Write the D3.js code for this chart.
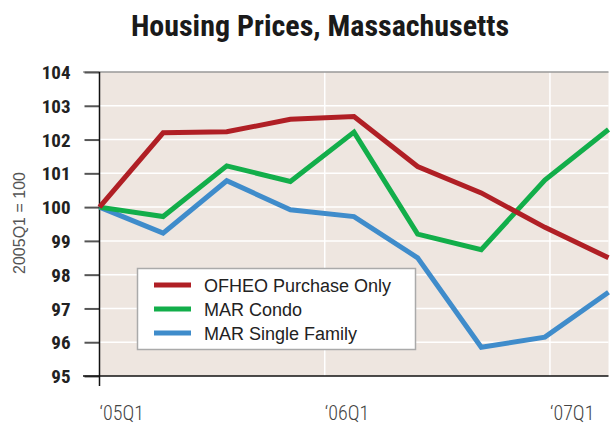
<!DOCTYPE html>
<html><head><meta charset="utf-8">
<script src="https://cdn.jsdelivr.net/npm/d3@7"></script>
<style>
body{margin:0;background:#fff;}
svg{display:block;}
</style></head>
<body>
<svg id="chart" width="616" height="427"></svg>
<script>
const categories = ["05Q1","05Q2","05Q3","05Q4","06Q1","06Q2","06Q3","06Q4","07Q1"];
const ofheo  = [100, 102.2, 102.23, 102.6, 102.68, 101.2, 100.42, 99.4, 98.5];
const condo  = [100, 99.72, 101.22, 100.76, 102.22, 99.2, 98.74, 100.8, 102.3];
const single = [100, 99.23, 100.78, 99.92, 99.72, 98.5, 95.85, 96.15, 97.48];
const seriesNames = ["OFHEO Purchase Only","MAR Condo","MAR Single Family"];
const seriesColors = ["#b01f25","#12ae4a","#3f8ccb"];
const yTicks = [95,96,97,98,99,100,101,102,103,104];
const xTickLabels = ["\u201805Q1","\u201806Q1","\u201807Q1"];
const xTickQuarters = [0,4,8];

const svg = d3.select("#chart");
const L = 99.5, R = 608.5, T = 72, B = 376;
const y = d3.scaleLinear().domain([95,104]).range([B,T]);
const xq = d3.scaleLinear().domain([0,9.04]).range([L,R]);
const xp = d3.scalePoint().domain(categories).range([L,R]);

const condensed = "'Liberation Sans Narrow','Arial Narrow','Roboto Condensed',sans-serif";

svg.append("text").attr("x",320).attr("y",36).attr("text-anchor","middle")
  .style("font-family",condensed).style("font-weight","bold").style("font-size","30px")
  .attr("fill","#1a1a1a").text("Housing Prices, Massachusetts");

svg.append("rect").attr("x",L).attr("y",T).attr("width",R-L).attr("height",B-T).attr("fill","#eee6e0");

// horizontal grid
svg.append("g").selectAll("line").data(yTicks.slice(1,-1)).join("line")
  .attr("x1",L).attr("x2",R).attr("y1",d=>y(d)).attr("y2",d=>y(d))
  .attr("stroke","#fff").attr("stroke-width",1.5);
// vertical grid
svg.append("g").selectAll("line").data(xTickQuarters.slice(1)).join("line")
  .attr("x1",d=>xq(d)).attr("x2",d=>xq(d)).attr("y1",T).attr("y2",B)
  .attr("stroke","#fff").attr("stroke-width",1.5);

// top border
svg.append("line").attr("x1",83).attr("x2",R).attr("y1",T).attr("y2",T).attr("stroke","#999").attr("stroke-width",1.5);

// y axis
const yAxis = d3.axisLeft(y).tickValues(yTicks).tickSize(15).tickPadding(14).tickFormat(d3.format("d"));
const gy = svg.append("g").attr("transform",`translate(${L},0)`).call(yAxis);
gy.select(".domain").remove();
gy.selectAll(".tick line").attr("stroke","#555").attr("stroke-width",2);
gy.selectAll(".tick text").style("font-family",condensed).style("font-weight","bold")
  .style("font-size","19px").attr("fill","#222").attr("dy","0.35em");

// x axis
const gx = svg.append("g").attr("transform",`translate(0,${B})`);
gx.selectAll("text").data(xTickQuarters).join("text")
  .attr("x",d=>xq(d)).attr("y",44).attr("text-anchor","start")
  .style("font-family",condensed).style("font-weight","300").style("font-size","20px").attr("fill","#444")
  .text((d,i)=>xTickLabels[i]);
svg.append("line").attr("x1",83).attr("x2",R).attr("y1",B).attr("y2",B).attr("stroke","#111").attr("stroke-width",1.5);
svg.append("line").attr("x1",L).attr("x2",L).attr("y1",T).attr("y2",386).attr("stroke","#111").attr("stroke-width",1.5);

// y label
svg.append("text").attr("transform","translate(25,223) rotate(-90)").attr("text-anchor","middle")
  .style("font-family","'Liberation Sans',Arial,sans-serif").style("font-size","16px").attr("fill","#555")
  .text("2005Q1 = 100");

// lines
const line = d3.line().x((d,i)=>xp(categories[i])).y(d=>y(d));
const allSeries = [ofheo, condo, single];
[2,1,0].forEach(k=>{
  svg.append("path").datum(allSeries[k]).attr("d",line).attr("fill","none")
    .attr("stroke",seriesColors[k]).attr("stroke-width",5).attr("stroke-linejoin","miter");
});

// legend
const lg = svg.append("g");
lg.append("rect").attr("x",137.5).attr("y",268.5).attr("width",278).attr("height",81)
  .attr("fill","#fff").attr("stroke","#aaa").attr("stroke-width",1.5);
seriesNames.forEach((n,i)=>{
  const yy = 285 + i*24;
  lg.append("line").attr("x1",154).attr("x2",191).attr("y1",yy).attr("y2",yy)
    .attr("stroke",seriesColors[i]).attr("stroke-width",5);
  lg.append("text").attr("x",204).attr("y",yy+6.5).style("font-family","'Liberation Sans',Arial,sans-serif")
    .style("font-size","18px").attr("fill","#222").text(n);
});
</script>
</body></html>
